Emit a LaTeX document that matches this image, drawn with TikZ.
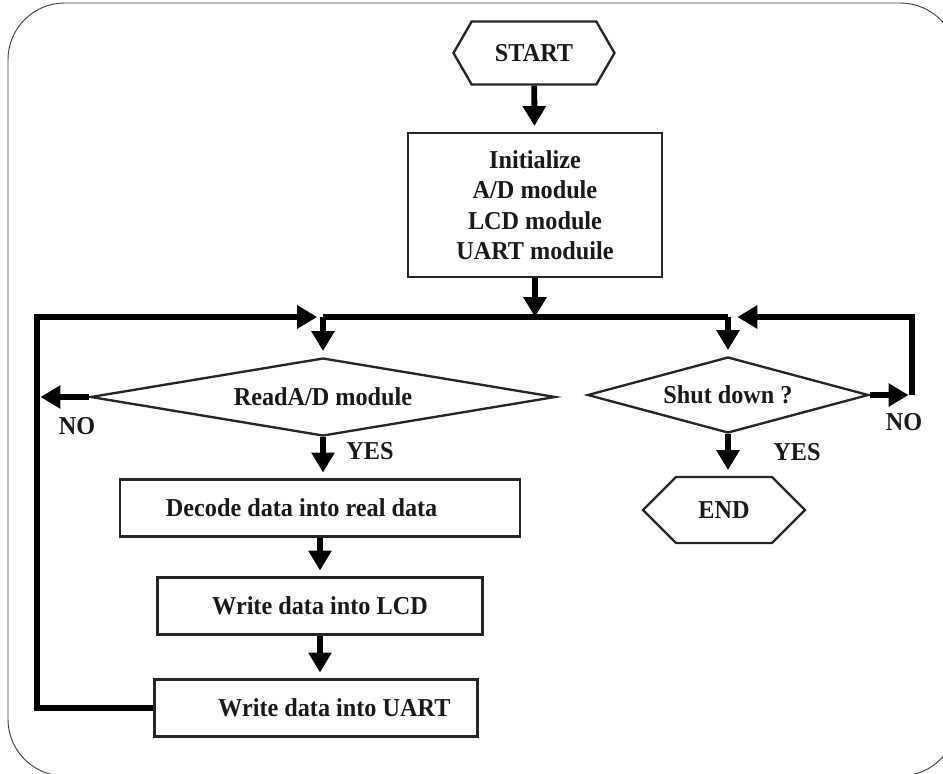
\documentclass[tikz,border=0pt]{standalone}
\usepackage{fontspec}
\setmainfont{Liberation Serif}[FakeStretch=0.94]
\usetikzlibrary{arrows.meta,shapes.geometric,shapes.symbols}

\begin{document}
\begin{tikzpicture}[x=0.03cm, y=-0.03cm,
  every node/.style={font=\bfseries\fontsize{22}{26}\selectfont, text=black!90},
  box/.style={draw=black!85, line width=2pt, rectangle, inner sep=0pt, align=center},
  test/.style={draw=black!85, line width=2pt, diamond, inner sep=0pt},
  term/.style={draw=black!85, line width=2pt, signal, signal to=west and east, inner sep=0pt},
  flow/.style={line width=5pt, line join=miter, shorten >=5pt, -{Triangle[width=19pt,length=17pt]}},
  bus/.style={line width=5pt, line join=miter}]
  \useasboundingbox (0,0) rectangle (943,773);
  % Frame
  \draw[line width=0.8pt, black!75, rounded corners=1.7cm] (8,3) rectangle (957,776);
  % Start and initialisation
  \node[term, signal pointer angle=120, minimum width=4.83cm, minimum height=1.89cm] (start) at (534,53) {START};
  \node[box, minimum width=7.62cm, minimum height=4.32cm] (init) at (535,205)
    {Initialize\\A/D module\\LCD module\\UART moduile};
  % Junctions on the bus
  \coordinate (jL) at (323,317);
  \coordinate (jR) at (728,317);
  % Decisions
  \node[test, aspect=6, minimum width=13.95cm, minimum height=2.34cm] (read) at (323,397) {ReadA/D module};
  \node[test, aspect=3.7, minimum width=8.43cm, minimum height=2.28cm] (sd) at (728,395) {Shut down ?};
  % Processing boxes
  \node[box, minimum width=12cm, minimum height=1.71cm] (decode) at (320,508) {Decode data into real data\hspace{1.1cm}};
  \node[box, minimum width=9.75cm, minimum height=1.71cm] (lcd) at (320,606) {Write data into LCD};
  \node[box, minimum width=9.69cm, minimum height=1.71cm] (uart) at (316,708) {\hspace{1.1cm}Write data into UART};
  \node[term, signal pointer angle=90, minimum width=4.86cm, minimum height=1.98cm] (end) at (724,510) {END};
  % Loop corners
  \coordinate (loopL) at (37,397);
  \coordinate (loopR) at (912,395);
  % Main flow
  \draw[flow] (start) -- (init);
  \draw[flow, shorten >=0pt] (init.south) -- (init.south |- jL);
  \draw[bus] (jL) -- (jR);
  \draw[flow] (jL) -- (read.north);
  \draw[flow] (jR) -- (sd.north);
  \draw[flow] (read.south) -- (read.south |- decode.north);
  \draw[flow] (decode.south) -- (decode.south |- lcd.north);
  \draw[flow] (lcd.south) -- (lcd.south |- uart.north);
  \draw[flow] (sd.south) -- (sd.south |- end.north);
  % NO branches
  \draw[flow, shorten >=3pt] (read.west) -- (loopL);
  \draw[flow] (uart.west) -| (loopL) |- (jL);
  \draw[flow, shorten >=3pt] (sd.east) -- (loopR);
  \draw[flow, shorten >=8pt] (loopR) |- (jR);
  % Labels
  \node (noL) at (77,426) {NO};
  \node (yesL) at (370,451) {YES};
  \node (yesR) at (797,452) {YES};
  \node (noR) at (904,422) {NO};
\end{tikzpicture}
\end{document}
